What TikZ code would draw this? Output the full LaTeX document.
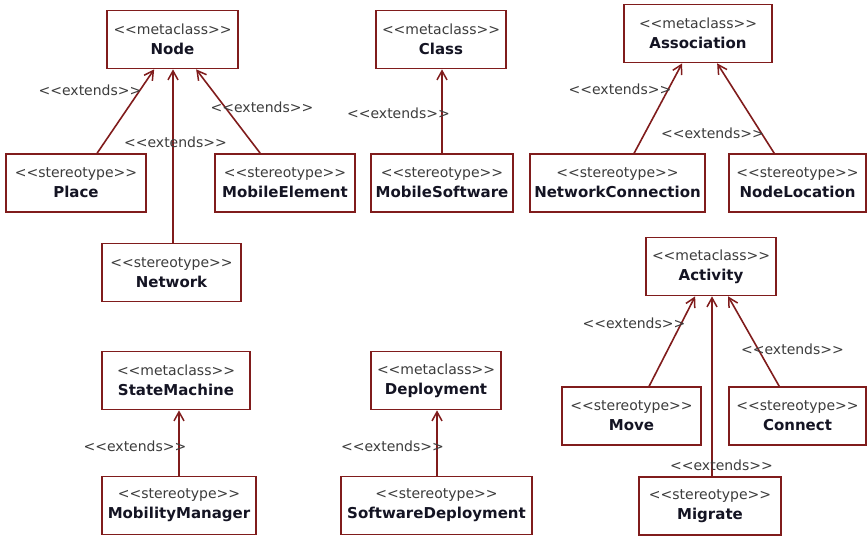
\documentclass[tikz,border=0pt]{standalone}
\usepackage{fontspec}
\setmainfont{DejaVu Sans}[Ligatures=TeXOff]
\usetikzlibrary{arrows.meta,calc}
\definecolor{maroon}{RGB}{128,28,28}
\definecolor{txtgray}{RGB}{60,60,60}
\definecolor{namecol}{RGB}{20,20,35}
\newcommand\umlcontent[2]{<<#1>>\\{\fontsize{15}{20}\selectfont\bfseries\color{namecol}#2}}
\tikzset{
  umlbox/.style={draw=maroon, line width=1.7pt, fill=white, align=center, inner sep=0pt,
    minimum height=58pt, font=\fontsize{14}{20}\selectfont, text=txtgray},
  extlabel/.style={font=\fontsize{14}{17}\selectfont, text=txtgray, inner sep=0pt},
  extarrow/.style={draw=maroon, line width=1.6pt, -{Straight Barb[length=9pt,width=10pt,line width=1.5pt]}},
}
\begin{document}
\begin{tikzpicture}[x=1pt,y=-1pt]
\useasboundingbox (0,0) rectangle (868,536);
% boxes
\node[umlbox, minimum width=131pt] (node) at (172.5,39.5) {\umlcontent{metaclass}{Node}};
\node[umlbox, minimum width=140pt] (place) at (76,183) {\umlcontent{stereotype}{Place}};
\node[umlbox, minimum width=140pt] (mobel) at (285,183) {\umlcontent{stereotype}{MobileElement}};
\node[umlbox, minimum width=139pt] (network) at (171.5,272.5) {\umlcontent{stereotype}{Network}};
\node[umlbox, minimum width=130pt] (class) at (441,39.5) {\umlcontent{metaclass}{Class}};
\node[umlbox, minimum width=142pt] (mobsw) at (442,183) {\umlcontent{stereotype}{MobileSoftware}};
\node[umlbox, minimum width=148pt] (assoc) at (698,33.5) {\umlcontent{metaclass}{Association}};
\node[umlbox, minimum width=175pt] (netconn) at (617.5,183) {\umlcontent{stereotype}{NetworkConnection}};
\node[umlbox, minimum width=137pt] (nodeloc) at (797.5,183) {\umlcontent{stereotype}{NodeLocation}};
\node[umlbox, minimum width=130pt] (activity) at (711,266.5) {\umlcontent{metaclass}{Activity}};
\node[umlbox, minimum width=139pt] (move) at (631.5,416) {\umlcontent{stereotype}{Move}};
\node[umlbox, minimum width=137pt] (connect) at (797.5,416) {\umlcontent{stereotype}{Connect}};
\node[umlbox, minimum width=142pt] (migrate) at (710,506) {\umlcontent{stereotype}{Migrate}};
\node[umlbox, minimum width=148pt] (statem) at (176,380.5) {\umlcontent{metaclass}{StateMachine}};
\node[umlbox, minimum width=154pt] (mobman) at (179,505.5) {\umlcontent{stereotype}{MobilityManager}};
\node[umlbox, minimum width=130pt] (deploy) at (436,380.5) {\umlcontent{metaclass}{Deployment}};
\node[umlbox, minimum width=191pt] (swdep) at (436.5,505.5) {\umlcontent{stereotype}{SoftwareDeployment}};
% connector end points
\coordinate (netTop) at ($(network.north)+(1.5,0)$);
\coordinate (migTop) at ($(migrate.north)+(2,0)$);
\coordinate (swTop) at ($(swdep.north)+(0.5,0)$);
% connectors
\draw[extarrow] ($(place.north west)+(92,0)$) -- ($(node.south west)+(48,0)$);
\draw[extarrow] (netTop) -- (netTop |- node.south);
\draw[extarrow] ($(mobel.north west)+(46,0)$) -- ($(node.south west)+(90,0)$);
\draw[extarrow] (mobsw.north) -- (mobsw.north |- class.south);
\draw[extarrow] ($(netconn.north west)+(105,0)$) -- ($(assoc.south west)+(59,0)$);
\draw[extarrow] ($(nodeloc.north west)+(46,0)$) -- ($(assoc.south west)+(94,0)$);
\draw[extarrow] ($(move.north west)+(88,0)$) -- ($(activity.south west)+(50,0)$);
\draw[extarrow] (migTop) -- (migTop |- activity.south);
\draw[extarrow] ($(connect.north west)+(51,0)$) -- ($(activity.south west)+(83,0)$);
\draw[extarrow] (mobman.north) -- (mobman.north |- statem.south);
\draw[extarrow] (swTop) -- (swTop |- deploy.south);
% labels
\node[extlabel] (l1) at (90,90) {<<extends>>};
\node[extlabel] (l2) at (175.5,142) {<<extends>>};
\node[extlabel] (l3) at (262,107) {<<extends>>};
\node[extlabel] (l4) at (398.5,113) {<<extends>>};
\node[extlabel] (l5) at (620,89) {<<extends>>};
\node[extlabel] (l6) at (712.5,133) {<<extends>>};
\node[extlabel] (l7) at (634,323) {<<extends>>};
\node[extlabel] (l8) at (792.5,349) {<<extends>>};
\node[extlabel] (l9) at (721.5,465) {<<extends>>};
\node[extlabel] (l10) at (135,446) {<<extends>>};
\node[extlabel] (l11) at (392.5,446) {<<extends>>};
\end{tikzpicture}
\end{document}
